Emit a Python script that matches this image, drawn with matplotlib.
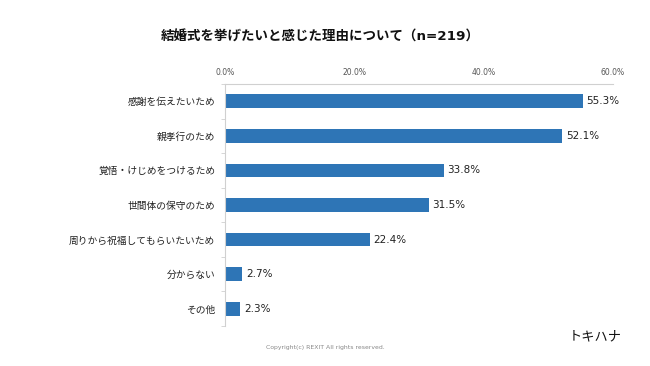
import matplotlib
matplotlib.use("Agg")
import matplotlib.pyplot as plt
import numpy as np

plt.rcParams['font.family'] = ['DejaVu Sans', 'Noto Sans CJK JP']

categories = ["感謝を伝えたいため", "親孝行のため", "覚悟・けじめをつけるため",
              "世間体の保守のため", "周りから祝福してもらいたいため", "分からない", "その他"]
values = [55.3, 52.1, 33.8, 31.5, 22.4, 2.7, 2.3]
xticks = [0, 20, 40, 60]

fig = plt.figure(figsize=(6.5, 3.66), dpi=100)
ax = fig.add_axes([225 / 650, 1 - 326 / 366, (613 - 225) / 650, (326 - 84) / 366])

y = np.arange(len(categories))
ax.barh(y, values, height=0.4, color="#2E75B6")
for yi, v in zip(y, values):
    ax.text(v + 0.6, yi, f"{v:.1f}%", va="center", ha="left", fontsize=7.5, color="#222222")

ax.set_xlim(0, 60)
ax.set_ylim(len(categories) - 0.5, -0.5)
ax.set_yticks(y)
ax.set_yticklabels(categories, fontsize=7, color="#222222")
ax.set_yticks(np.arange(-0.5, len(categories), 1), minor=True)
ax.tick_params(axis="y", which="major", length=0, pad=7)
ax.tick_params(axis="y", which="minor", length=3, color="#D0D0D0", direction="out")

ax.xaxis.tick_top()
ax.set_xticks(xticks)
ax.set_xticklabels([f"{t:.1f}%" for t in xticks], fontsize=5.5, color="#555555")
ax.tick_params(axis="x", length=0, pad=5)

for s in ["right", "bottom"]:
    ax.spines[s].set_visible(False)
ax.spines["top"].set_color("#D0D0D0")
ax.spines["left"].set_color("#D0D0D0")
ax.spines["top"].set_linewidth(0.8)
ax.spines["left"].set_linewidth(0.8)

fig.text(320 / 650, 1 - 37 / 366, "結婚式を挙げたいと感じた理由について（n=219）",
         ha="center", va="center", fontsize=9.7, fontweight="bold", color="#111111")
fig.text(325 / 650, 1 - 347 / 366, "Copyright(c) REXIT All rights reserved.",
         ha="center", va="center", fontsize=4.4, color="#888888")
fig.text(622 / 650, 1 - 337 / 366, "トキハナ", ha="right", va="center",
         fontsize=9.5, color="#111111")

fig.savefig("out.png", dpi=100)
